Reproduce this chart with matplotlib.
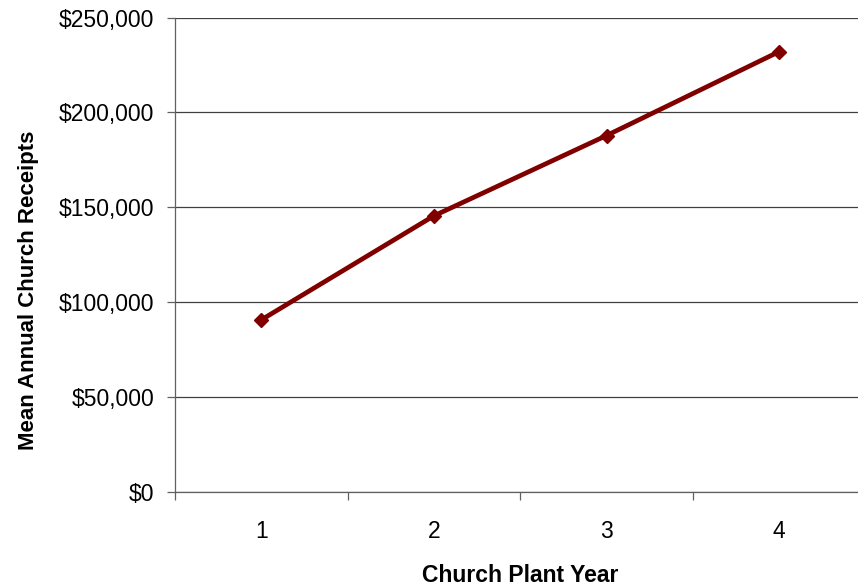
import matplotlib.pyplot as plt
from matplotlib.ticker import FuncFormatter

# Data
years = [1, 2, 3, 4]
receipts = [90700, 145500, 187800, 232000]
yticks = [0, 50000, 100000, 150000, 200000, 250000]

plt.rcParams['font.family'] = ['Liberation Sans', 'DejaVu Sans']

fig = plt.figure(figsize=(8.58, 5.88), dpi=100)
ax = fig.add_axes([175 / 858, 1 - 492 / 588, 690.4 / 858, 474.5 / 588])

ax.plot(years, receipts, color='#800000', linewidth=3.4, marker='D',
        markersize=7, clip_on=False, zorder=3)

ax.set_xlim(0.5, 4.5)
ax.set_ylim(0, 250000)
ax.set_yticks(yticks)
ax.yaxis.set_major_formatter(FuncFormatter(lambda v, p: '${:,.0f}'.format(v)))
ax.set_xticks(years)
ax.set_xticks([0.5, 1.5, 2.5, 3.5, 4.5], minor=True)

ax.grid(axis='y', color='#404040', linewidth=0.9)
ax.set_axisbelow(True)

for s in ['top', 'right']:
    ax.spines[s].set_visible(False)
for s in ['left', 'bottom']:
    ax.spines[s].set_color('#606060')
    ax.spines[s].set_linewidth(0.9)

ax.tick_params(axis='y', direction='out', length=6, width=0.9, color='#606060',
               pad=9, labelsize=16.5)
ax.tick_params(axis='x', which='major', length=0, pad=20, labelsize=16.5)
ax.tick_params(axis='x', which='minor', direction='out', length=6, width=0.9,
               color='#606060')

ax.set_xlabel('Church Plant Year', fontsize=16.5, fontweight='bold', labelpad=15)
ax.set_ylabel('Mean Annual Church Receipts', fontsize=16, fontweight='bold',
              labelpad=14)
ax.yaxis.label.set_y(0.425)

fig.savefig('out.png', dpi=100)
